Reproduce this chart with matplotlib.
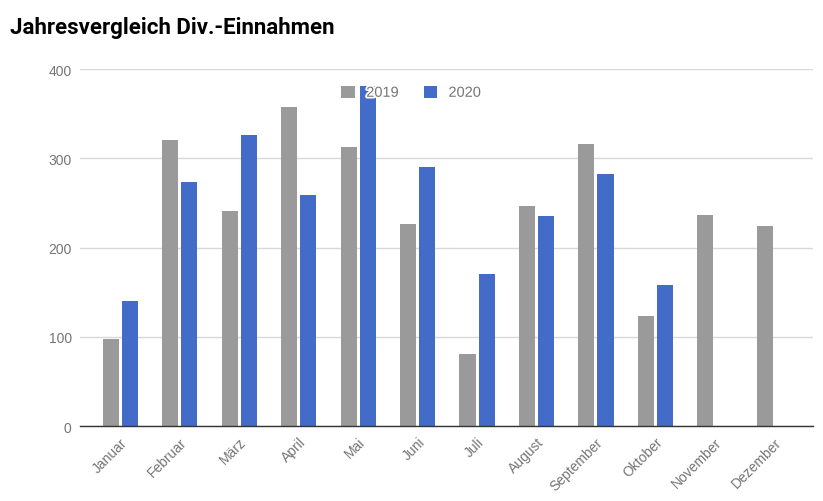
import numpy as np
import matplotlib.pyplot as plt
import matplotlib.patheffects as pe

monate = ['Januar', 'Februar', 'März', 'April', 'Mai', 'Juni', 'Juli',
          'August', 'September', 'Oktober', 'November', 'Dezember']
werte_2019 = [98, 321, 241, 358, 313, 227, 81, 247, 316, 123, 237, 224]
werte_2020 = [140, 274, 326, 259, 381, 290, 171, 235, 283, 158, np.nan, np.nan]
y_ticks = [0, 100, 200, 300, 400]

grau = '#9a9a9a'
blau = '#436bc8'
txt = '#757575'

fig = plt.figure(figsize=(8.23, 5.02), dpi=100)
ax = fig.add_axes([80/823, 1 - 427.3/502, 733/823, 357.3/502])

x = np.arange(len(monate))
w = 0.27
ax.bar(x - 0.16, werte_2019, w, color=grau, label='2019', zorder=3)
ax.bar(x + 0.16, werte_2020, w, color=blau, label='2020', zorder=3)

ax.set_xlim(-0.677, 11.65)
ax.set_ylim(0, 400)
ax.set_yticks(y_ticks)
ax.grid(axis='y', color='#d9d9d9', linewidth=1, zorder=0)
ax.set_axisbelow(True)

for s in ['top', 'right', 'left']:
    ax.spines[s].set_visible(False)
ax.spines['bottom'].set_color('#333333')
ax.spines['bottom'].set_linewidth(1)
ax.spines['bottom'].set_zorder(4)

ax.tick_params(axis='y', length=0, pad=6, labelcolor=txt, labelsize=10)
ax.tick_params(axis='x', length=0, pad=6, labelcolor=txt, labelsize=10)
ax.set_xticks(x)
ax.set_xticklabels(monate, rotation=45, ha='right', rotation_mode='anchor')
for lab in ax.get_xticklabels() + ax.get_yticklabels():
    lab.set_family('Liberation Sans')

leg = ax.legend(loc='upper center', bbox_to_anchor=(0.452, 0.99), ncol=2,
                frameon=False, handlelength=0.9, handleheight=0.9,
                handletextpad=0.8, columnspacing=1.7,
                prop={'family': 'Liberation Sans', 'size': 10.5})
leg.set_zorder(5)
for t in leg.get_texts():
    t.set_color(txt)
    t.set_path_effects([pe.withStroke(linewidth=2.5, foreground='white')])

fig.text(10/823, 1 - 28/502, 'Jahresvergleich Div.-Einnahmen', fontsize=16,
         fontweight='bold', family='Roboto', va='center', ha='left', color='black')

fig.savefig('out.png', dpi=100)
